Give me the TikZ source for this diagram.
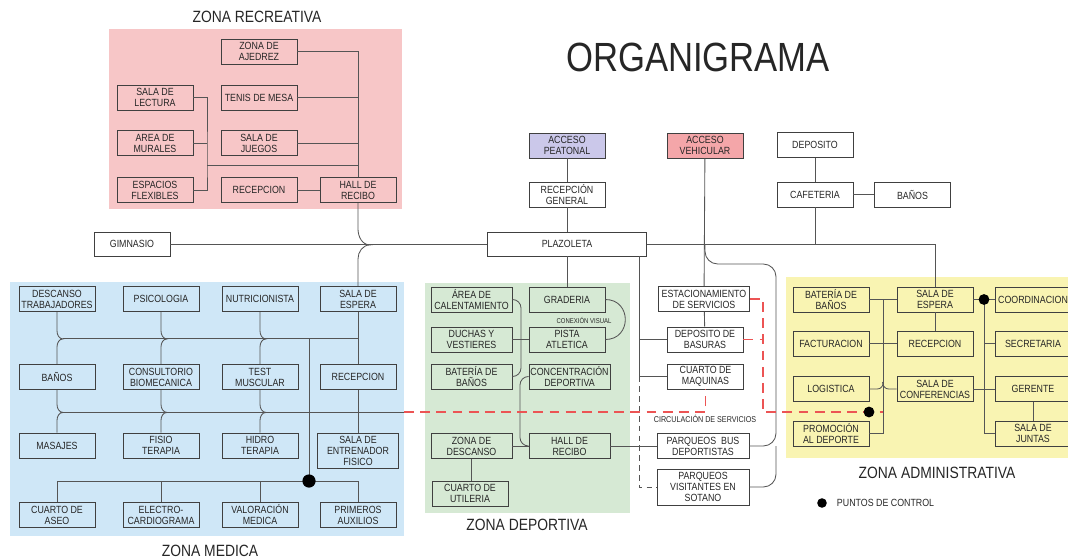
\documentclass[tikz,border=0pt]{standalone}
\usepackage{fontspec}
\setmainfont{Liberation Sans}[FakeStretch=0.85]
\usepackage{tikz}
\usetikzlibrary{positioning,arrows.meta}
\definecolor{recreo}{HTML}{F7C6C7}
\definecolor{medico}{HTML}{CFE7F7}
\definecolor{deporte}{HTML}{D6E9D4}
\definecolor{oficina}{HTML}{F9F4B2}
\definecolor{peaton}{HTML}{CBC8EA}
\definecolor{vehiculo}{HTML}{F4A6A9}
\definecolor{trazo}{HTML}{555555}
\definecolor{servicio}{RGB}{236,84,84}
\tikzset{
  roombox/.style={draw=black!75, line width=0.6pt, minimum width=1.9cm, minimum height=0.625cm, inner sep=0.5pt, align=center, font=\fontsize{7.4}{7.8}\selectfont},
  widebox/.style={roombox, minimum width=2.025cm},
  accessbox/.style={roombox, fill=#1},
  link/.style={color=trazo, line width=0.6pt},
  servline/.style={draw=servicio, line width=1.1pt, dash pattern=on 7pt off 4.5pt},
  zonetitle/.style={font=\fontsize{11.6}{12}\selectfont},
  control/.style={circle, fill=black, inner sep=0pt, minimum size=0.27cm},
  tinylabel/.style={font=\fontsize{5}{5.5}\selectfont}
}

\begin{document}
\begin{tikzpicture}[x=0.025cm, y=0.025cm, every node/.style={font=\fontsize{7.4}{7.8}\selectfont, text=black!85}]
  \useasboundingbox (0,0) rectangle (1068,-559);
  \fill[recreo] (109,-29) rectangle (402,-209);
  \fill[medico] (10,-282) rectangle (404,-536);
  \fill[deporte] (425,-283) rectangle (630,-513);
  \fill[oficina] (786,-277) rectangle (1080,-458);

  \node[font=\fontsize{29}{30}\selectfont] (titulo) at (698,-57) {ORGANIGRAMA};
  \node[zonetitle] (trecreo) at (257,-17) {ZONA RECREATIVA};
  \node[zonetitle] (tmedico) at (210,-551) {ZONA MEDICA};
  \node[zonetitle] (tdeporte) at (527,-525) {ZONA DEPORTIVA};
  \node[zonetitle] (toficina) at (937,-473) {ZONA ADMINISTRATIVA};

  \node[roombox] (ajedrez) at (259,-51.5) {ZONA DE\\AJEDREZ};
  \node[roombox] (tenis) at (259,-97.5) {TENIS DE MESA};
  \node[roombox] (juegos) at (259,-143) {SALA DE\\JUEGOS};
  \node[roombox] (recrecep) at (259,-190) {RECEPCION};
  \node[roombox] (hallrec) at (358,-190) {HALL DE\\RECIBO};
  \node[roombox] (lectura) at (155,-97.5) {SALA DE\\LECTURA};
  \node[roombox] (murales) at (155,-143) {AREA DE\\MURALES};
  \node[roombox] (flexibles) at (155,-190) {ESPACIOS\\FLEXIBLES};

  \node[roombox, minimum height=0.6cm] (gimnasio) at (132,-244) {GIMNASIO};
  \node[roombox, minimum width=3.975cm, minimum height=0.6cm] (plazoleta) at (567,-244) {PLAZOLETA};
  \node[accessbox=peaton] (peatonal) at (567,-145.5) {ACCESO\\PEATONAL};
  \node[roombox] (recgen) at (567,-194.5) {RECEPCIÓN\\GENERAL};
  \node[accessbox=vehiculo] (vehicular) at (705,-145.5) {ACCESO\\VEHICULAR};
  \node[roombox] (deposito) at (815,-145) {DEPOSITO};
  \node[roombox] (cafeteria) at (815,-194.5) {CAFETERIA};
  \node[roombox] (banos) at (912.5,-194.5) {BAÑOS};

  \node[roombox] (descanso) at (57,-299) {DESCANSO\\TRABAJADORES};
  \node[roombox] (psico) at (161,-299) {PSICOLOGIA};
  \node[roombox] (nutri) at (260,-299) {NUTRICIONISTA};
  \node[roombox] (mespera) at (358,-299) {SALA DE\\ESPERA};
  \node[roombox] (mbanos) at (57,-377) {BAÑOS};
  \node[roombox] (biomec) at (161,-377) {CONSULTORIO\\BIOMECANICA};
  \node[roombox] (test) at (260,-377) {TEST\\MUSCULAR};
  \node[roombox] (mrecep) at (358,-377) {RECEPCION};
  \node[roombox] (masajes) at (57,-445.5) {MASAJES};
  \node[roombox] (fisio) at (161,-445.5) {FISIO\\TERAPIA};
  \node[roombox] (hidro) at (260,-445.5) {HIDRO\\TERAPIA};
  \node[widebox, minimum height=0.875cm] (entrenador) at (358,-450.5) {SALA DE\\ENTRENADOR\\FISICO};
  \node[roombox] (aseo) at (57,-515) {CUARTO DE\\ASEO};
  \node[roombox] (electro) at (161,-515) {ELECTRO-\\CARDIOGRAMA};
  \node[roombox] (valor) at (260,-515) {VALORACIÓN\\MEDICA};
  \node[roombox] (auxilios) at (358,-515) {PRIMEROS\\AUXILIOS};

  \node[widebox] (calent) at (471.5,-299.5) {ÁREA DE\\CALENTAMIENTO};
  \node[widebox] (duchas) at (471.5,-339.5) {DUCHAS Y\\VESTIERES};
  \node[widebox] (depbanos) at (471.5,-376.5) {BATERÍA DE\\BAÑOS};
  \node[widebox] (descdep) at (471.5,-446) {ZONA DE\\DESCANSO};
  \node[roombox] (utileria) at (470,-493.5) {CUARTO DE\\UTILERIA};
  \node[roombox] (graderia) at (567,-299.5) {GRADERIA};
  \node[roombox] (pista) at (567,-339.5) {PISTA\\ATLETICA};
  \node[widebox] (concentr) at (569.5,-376.5) {CONCENTRACIÓN\\DEPORTIVA};
  \node[widebox] (halldep) at (569.5,-446) {HALL DE\\RECIBO};
  \node[tinylabel] (conexion) at (584,-320) {CONEXIÓN VISUAL};

  \node[roombox, minimum width=2.275cm] (estac) at (704,-299) {ESTACIONAMIENTO\\DE SERVICIOS};
  \node[roombox] (basuras) at (705,-339.5) {DEPOSITO DE\\BASURAS};
  \node[roombox] (maquinas) at (705.5,-376.5) {CUARTO DE\\MAQUINAS};
  \node[roombox, minimum width=2.3cm] (bus) at (703,-446) {PARQUEOS~~BUS\\DEPORTISTAS};
  \node[roombox, minimum width=2.3cm, minimum height=0.9cm] (visit) at (703,-487) {PARQUEOS\\VISITANTES EN\\SOTANO};
  \node[font=\fontsize{6}{6.5}\selectfont] (circulacion) at (705,-419) {CIRCULACIÓN DE SERVICIOS};

  \node[roombox] (abanos) at (831,-299.5) {BATERÍA DE\\BAÑOS};
  \node[roombox] (factur) at (831,-343.5) {FACTURACION};
  \node[roombox] (logist) at (831,-389) {LOGISTICA};
  \node[roombox] (promo) at (831,-433.5) {PROMOCIÓN\\AL DEPORTE};
  \node[roombox] (aespera) at (935,-299.5) {SALA DE\\ESPERA};
  \node[roombox] (arecep) at (935,-343.5) {RECEPCION};
  \node[roombox] (confer) at (935,-389) {SALA DE\\CONFERENCIAS};
  \node[roombox] (coord) at (1033,-299.5) {COORDINACION};
  \node[roombox] (secre) at (1033,-343.5) {SECRETARIA};
  \node[roombox] (gerente) at (1033,-389) {GERENTE};
  \node[roombox] (juntas) at (1033,-433.5) {SALA DE\\JUNTAS};

  \coordinate (recjunta) at (207,-165);
  \coordinate (mlinea1) at (63,-338.5);
  \coordinate (mlinea2) at (63,-412);
  \coordinate (mcontrol) at (309,-481);
  \coordinate (servini) at (404,-412);
  \coordinate (servgiro) at (763,-412);
  \coordinate (bajada) at (639,-256);
  \coordinate (vsalida) at (705,-244);
  \coordinate (vcurva) at (776,-264);
  \coordinate (depnudo) at (521,-339.5);
  \coordinate (depcruce) at (520,-446);
  \coordinate (admcol) at (883,-412);
  \coordinate (admcol2) at (984,-299.5);

  \draw[link] (ajedrez.east) -| (hallrec.north);
  \draw[link] (tenis.east) -- (tenis.east -| hallrec.north);
  \draw[link] (juegos.east) -- (juegos.east -| hallrec.north);
  \draw[link] (recrecep) -- (hallrec);
  \draw[link] (lectura.east) -| (recjunta) |- (flexibles.east);
  \draw[link] (murales.east) -- (murales.east -| recjunta);
  \draw[link] (recjunta) -- (recjunta -| hallrec.north);
  \draw[link] (hallrec.south) -- ++(0,-26) to[out=-90,in=180] ++(12,-16) to[out=180,in=90] ++(-12,-14) -- (mespera.north);

  \draw[link] (gimnasio) -- (plazoleta);
  \draw[link] (peatonal) -- (recgen);
  \draw[link] (recgen) -- (plazoleta);
  \draw[link] (deposito) -- (cafeteria);
  \draw[link] (cafeteria) -- (banos);
  \draw[link] (cafeteria.south) -- (cafeteria.south |- plazoleta.east);
  \draw[link] (plazoleta.east) -| (aespera.north);
  \draw[link] (plazoleta) -- (graderia);
  \draw[link] (vehicular) -- (estac);
  \draw[link] (estac) -- (basuras);
  \draw[link, rounded corners=9] (vsalida) |- (vcurva) |- (bus.east);
  \draw[link, rounded corners=9] (vcurva |- bus.east) |- (visit.east);
  \draw[link] (bajada) |- (maquinas.west);
  \draw[link] (basuras.west) -- (basuras.west -| bajada);
  \draw[link, dash pattern=on 4pt off 3pt] (maquinas.west -| bajada) |- (visit.west);

  \foreach \a/\b in {descanso/mbanos, psico/biomec, nutri/test}
    \draw[link] (\a.south) -- ++(0,-19) to[out=-90,in=180] ++(6,-8) to[out=180,in=90] ++(-6,-8) -- (\b.north);
  \foreach \a/\b in {mbanos/masajes, biomec/fisio, test/hidro}
    \draw[link] (\a.south) -- ++(0,-14.5) to[out=-90,in=180] ++(6,-8) to[out=180,in=90] ++(-6,-8) -- (\b.north);
  \draw[link] (mlinea1) -- (mlinea1 -| mespera.south);
  \draw[link] (mlinea2) -- (servini);
  \draw[link] (mespera) -- (mrecep);
  \draw[link] (mrecep) -- (entrenador);
  \draw[link] (mcontrol |- mlinea1) -- (mcontrol);
  \draw[link] (aseo.north) |- (auxilios.north |- mcontrol) -- (auxilios.north);
  \draw[link] (electro.north) -- (electro.north |- mcontrol);
  \draw[link] (valor.north) -- (valor.north |- mcontrol);
  \node[control, minimum size=0.33cm] (mpunto) at (mcontrol) {};

  \draw[link] (graderia.east) to[out=0,in=0,looseness=1.7] (pista.east);
  \draw[link] (duchas) -- (pista);
  \draw[link, rounded corners=6] (calent.east) -| (depnudo) |- (depbanos.east);
  \draw[link, rounded corners=6] (concentr.west) -| (depcruce) -- (halldep.west);
  \draw[link] (descdep) -- (halldep);
  \draw[link] (descdep.south) -- (descdep.south |- utileria.north);
  \draw[link] (halldep) -- (bus);

  \draw[servline] (servini) -| (maquinas.south);
  \draw[servline] (estac.east) -| (servgiro) -- (admcol);
  \draw[servline] (basuras.east) -- (basuras.east -| servgiro);

  \draw[link] (aespera) -- (arecep);
  \draw[link] (abanos) -- (aespera);
  \draw[link] (factur) -- (arecep);
  \draw[link] (abanos.east -| admcol) |- (promo.east);
  \draw[link] (logist.east) -- ++(8,0) to[out=0,in=-90] ++(6,7);
  \draw[link] (confer.west) -- ++(-8,0) to[out=180,in=-90] ++(-6,7);
  \draw[link] (aespera) -- (coord);
  \draw[link] (admcol2) |- (juntas.west);
  \draw[link] (secre.west) -- (secre.west -| admcol2);
  \draw[link] (confer) -- (gerente);
  \draw[link] (gerente) -- (juntas);
  \node[control] (apunto1) at (869,-412) {};
  \node[control] (apunto2) at (admcol2) {};

  \node[control, minimum size=0.24cm] (leyenda) at (822,-503) {};
  \node[anchor=west, font=\fontsize{7.4}{8}\selectfont] (leyendatxt) at (832,-503) {PUNTOS DE CONTROL};
\end{tikzpicture}
\end{document}
